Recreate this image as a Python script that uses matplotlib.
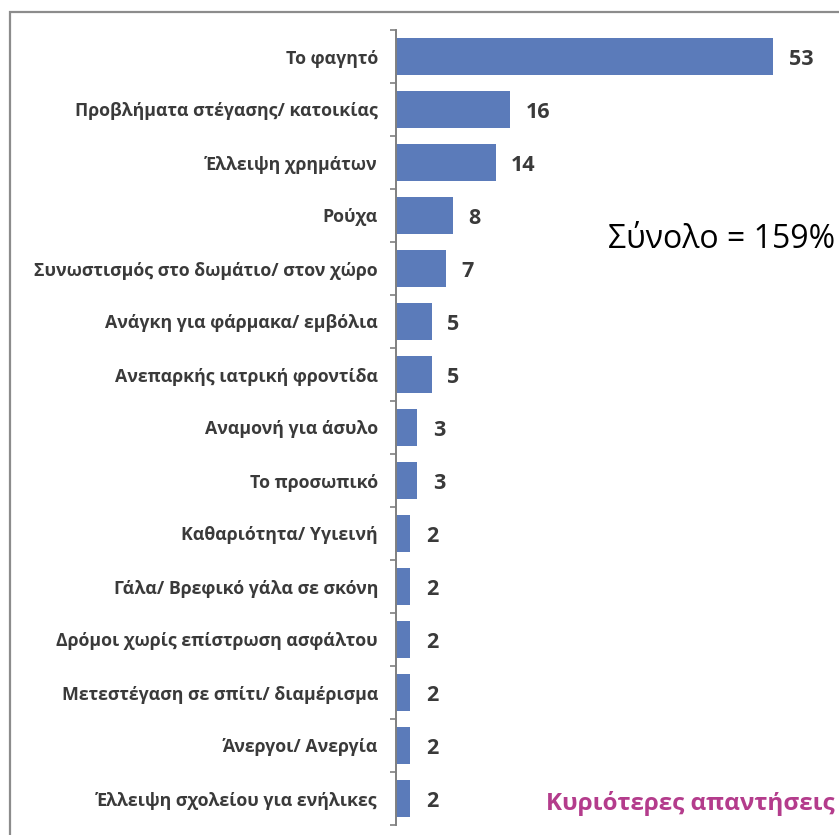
import matplotlib.pyplot as plt
from matplotlib.patches import Rectangle
from matplotlib.ticker import FixedLocator

categories = [
    "Το φαγητό",
    "Προβλήματα στέγασης/ κατοικίας",
    "Έλλειψη χρημάτων",
    "Ρούχα",
    "Συνωστισμός στο δωμάτιο/ στον χώρο",
    "Ανάγκη για φάρμακα/ εμβόλια",
    "Ανεπαρκής ιατρική φροντίδα",
    "Αναμονή για άσυλο",
    "Το προσωπικό",
    "Καθαριότητα/ Υγιεινή",
    "Γάλα/ Βρεφικό γάλα σε σκόνη",
    "Δρόμοι χωρίς επίστρωση ασφάλτου",
    "Μετεστέγαση σε σπίτι/ διαμέρισμα",
    "Άνεργοι/ Ανεργία",
    "Έλλειψη σχολείου για ενήλικες",
]
values = [53, 16, 14, 8, 7, 5, 5, 3, 3, 2, 2, 2, 2, 2, 2]
total_text = "Σύνολο = 159%"
note_text = "Κυριότερες απαντήσεις"

plt.rcParams['font.family'] = ['Open Sans', 'DejaVu Sans']

W, H = 839, 835
fig = plt.figure(figsize=(W / 100, H / 100), dpi=100)

# outer frame (cut off at right and bottom like the original)
fig.patches.append(Rectangle((9.5 / W, -0.05), 1.1, 1 - 11.5 / H + 0.05,
                             transform=fig.transFigure, fill=False,
                             edgecolor='#8c8c8c', linewidth=1.6))

ax = fig.add_axes([396 / W, 1 - 825 / H, 1 - 396 / W, 795 / H])
n = len(categories)
pos = list(range(n))
bars = ax.barh(pos, values, height=0.7, color='#5b7bba')
ax.set_ylim(n - 0.5, -0.5)
ax.set_xlim(0, 62.3)

for sp in ['top', 'right', 'bottom']:
    ax.spines[sp].set_visible(False)
ax.spines['left'].set_color('#808080')
ax.spines['left'].set_linewidth(1.4)
ax.set_xticks([])

ax.set_yticks(pos)
ax.set_yticklabels(categories, fontsize=12.8, fontweight='bold', color='#3a3a3a')
ax.tick_params(axis='y', which='major', length=0, pad=13)
ax.yaxis.set_minor_locator(FixedLocator([p - 0.5 for p in range(n + 1)]))
ax.tick_params(axis='y', which='minor', length=4, width=1.2, color='#808080')

# value labels, nudged slightly down as in the original
for b, v in zip(bars, values):
    ax.text(b.get_width() + 2.2, b.get_y() + b.get_height() / 2 + 0.06, str(v),
            va='center', ha='left', fontsize=15.5, fontweight='bold', color='#3a3a3a')

fig.text(1 - 4 / W, 1 - 239 / H, total_text, ha='right', va='center',
         fontsize=23, color='black')
fig.text(1 - 4 / W, 1 - 804 / H, note_text, ha='right', va='center',
         fontsize=17.5, fontweight='bold', color='#b43c8c')

fig.savefig('out.png', dpi=100)
